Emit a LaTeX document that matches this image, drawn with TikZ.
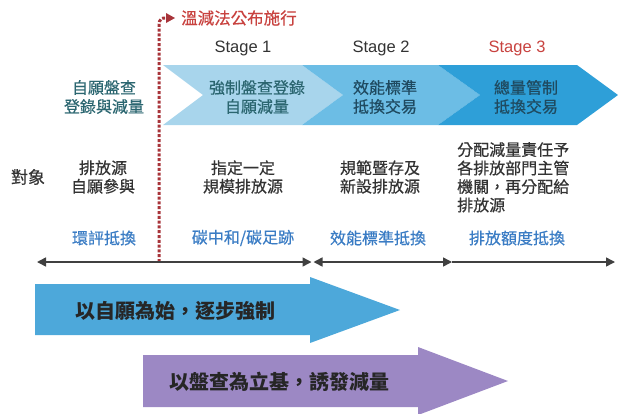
\documentclass[tikz,border=0pt]{standalone}
\usepackage{fontspec}
\setmainfont{Liberation Sans}
\newfontfamily\cjk[FakeBold=0.5]{Noto Sans CJK TC}
\newfontfamily\cjkb{Noto Sans CJK TC}
\usetikzlibrary{arrows.meta}
\definecolor{chevA}{HTML}{A8D5EC}
\definecolor{chevB}{HTML}{6CBDE5}
\definecolor{chevC}{HTML}{2E9FD8}
\definecolor{bigblue}{HTML}{4DA8DA}
\definecolor{bigpurple}{HTML}{9C88C4}
\definecolor{tealtxt}{HTML}{2B6670}
\definecolor{navytxt}{HTML}{1F4A60}
\definecolor{graytxt}{HTML}{333333}
\definecolor{bluetxt}{HTML}{3A7CC4}
\definecolor{redtxt}{HTML}{C8423F}
\definecolor{dotred}{HTML}{A8343A}
\begin{document}
\begin{tikzpicture}[x=1pt,y=-1pt,
  chevtxt/.style={font=\cjk\fontsize{16}{19}\selectfont, align=center, inner sep=0pt},
  objtxt/.style={font=\cjk\fontsize{16}{18.5}\selectfont, align=center, inner sep=0pt, text=graytxt},
  mechtxt/.style={font=\cjk\fontsize{16}{19}\selectfont, inner sep=0pt, text=bluetxt},
  stagetxt/.style={font=\fontsize{16.5}{19}\selectfont, inner sep=0pt, text=graytxt},
  bigtxt/.style={font=\cjkb\bfseries\fontsize{20}{24}\selectfont, inner sep=0pt, text=black!85},
  tline/.style={draw=black!75, line width=1.5pt},
  tip/.tip={Triangle[length=9pt,width=9pt]},
  redline/.style={draw=dotred, line width=3pt, dash pattern=on 3pt off 1.8pt}
]
\useasboundingbox (0,0) rectangle (618,413);

% chevrons
\fill[chevA] (163,65) -- (302,65) -- (343,95) -- (302,125) -- (163,125) -- (203,95) -- cycle;
\fill[chevB] (302,65) -- (438,65) -- (480,95) -- (438,125) -- (302,125) -- (343,95) -- cycle;
\fill[chevC] (438,65) -- (577,65) -- (618,95) -- (577,125) -- (438,125) -- (480,95) -- cycle;

% big arrows
\fill[bigblue] (35,284) -- (310,284) -- (310,277) -- (400,310) -- (310,343) -- (310,335) -- (35,335) -- cycle;
\fill[bigpurple] (143,355) -- (418,355) -- (418,347) -- (508,381) -- (418,415) -- (418,407) -- (143,407) -- cycle;

% dotted law line
\coordinate (dbot) at (159,262);
\coordinate (dtop) at (159,26);
\coordinate (dend) at (175,18);
\draw[redline] (dbot) -- (dtop) .. controls (159,18) and (162,18) .. (166,18);
\fill[dotred] (166,13) -- (dend) -- (166,23) -- cycle;
\node[anchor=west, inner sep=0pt, text=redtxt, font=\cjk\fontsize{16.5}{19}\selectfont] (law) at (181,18) {溫減法公布施行};

% stage labels
\node[stagetxt] (s1) at (243,48) {Stage 1};
\node[stagetxt] (s2) at (381,48) {Stage 2};
\node[stagetxt, text=redtxt] (s3) at (517,48) {Stage 3};

% chevron texts
\node[chevtxt, text=tealtxt] (c0) at (104,97) {自願盤查\\登錄與減量};
\node[chevtxt, text=tealtxt] (c1) at (257,97) {強制盤查登錄\\自願減量};
\node[chevtxt, text=navytxt] (c2) at (385,97) {效能標準\\抵換交易};
\node[chevtxt, text=navytxt] (c3) at (526,97) {總量管制\\抵換交易};

% objects row
\node[inner sep=0pt, text=graytxt, font=\cjk\fontsize{17}{19}\selectfont] (obj) at (28,177) {對象};
\node[objtxt] (o0) at (103,177) {排放源\\自願參與};
\node[objtxt] (o1) at (243,177) {指定一定\\規模排放源};
\node[objtxt] (o2) at (380,177) {規範暨存及\\新設排放源};
\node[objtxt, align=left, anchor=north west] (o3) at (457,142) {分配減量責任予\\各排放部門主管\\機關，再分配給\\排放源};

% mechanism row
\node[mechtxt] (m0) at (104,238) {環評抵換};
\node[mechtxt] (m1) at (243,238) {碳中和/碳足跡};
\node[mechtxt] (m2) at (378,238) {效能標準抵換};
\node[mechtxt] (m3) at (517,238) {排放額度抵換};

% timeline
\coordinate (t0) at (37,262);
\coordinate (t1) at (311.5,262);
\coordinate (t2) at (313.5,262);
\coordinate (t3) at (452,262);
\coordinate (t4) at (615,262);
\draw[tline, {tip}-{tip}] (t0) -- (t1);
\draw[tline, {tip}-{tip}] (t2) -- (t3);
\draw[tline, -{tip}] (t3) -- (t4);

% big arrow texts
\node[bigtxt] (b1) at (175,311) {以自願為始，逐步強制};
\node[bigtxt] (b2) at (279,382) {以盤查為立基，誘發減量};
\end{tikzpicture}
\end{document}
